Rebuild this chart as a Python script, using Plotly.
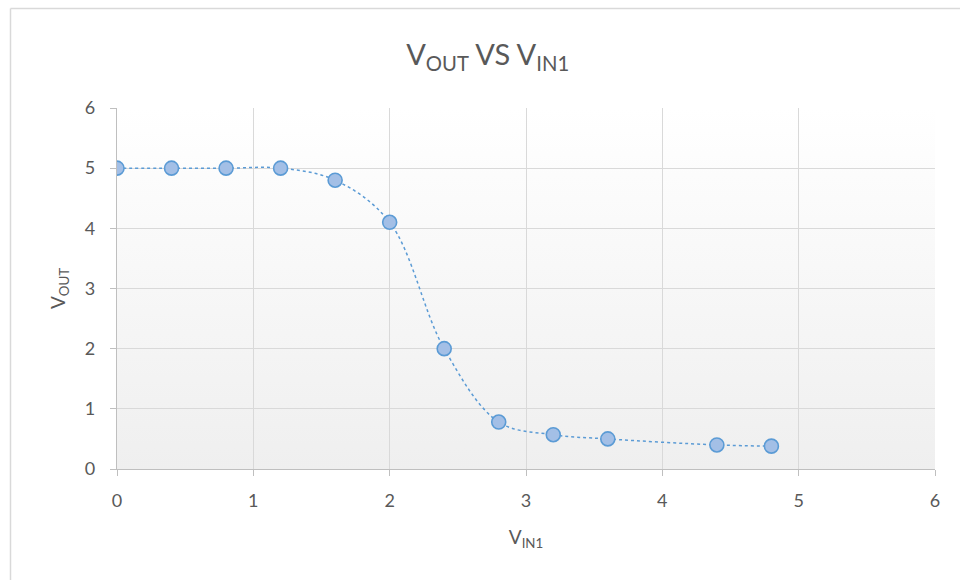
import plotly.graph_objects as go

# Transfer characteristic measurements
v_in1 = [0, 0.4, 0.8, 1.2, 1.6, 2.0, 2.4, 2.8, 3.2, 3.6, 4.4, 4.8]
v_out = [5.0, 5.0, 5.0, 5.0, 4.8, 4.1, 2.0, 0.78, 0.57, 0.5, 0.4, 0.38]
tick_vals = [0, 1, 2, 3, 4, 5, 6]

FONT = "Lato, Open Sans, sans-serif"
TXT = "#595959"
GRID = "#d9d9d9"
AXIS = "#bfbfbf"
BLUE = "#5b9bd5"

# Soft vertical gradient for the plotting area
grad_svg = (
    "data:image/svg+xml;utf8,"
    "<svg xmlns='http://www.w3.org/2000/svg' width='100' height='100' preserveAspectRatio='none'>"
    "<defs><linearGradient id='g' x1='0' y1='0' x2='0' y2='1'>"
    "<stop offset='0' stop-color='%23ffffff'/><stop offset='1' stop-color='%23efefef'/>"
    "</linearGradient></defs><rect width='100' height='100' fill='url(%23g)'/></svg>"
)

fig = go.Figure()
fig.add_trace(go.Scatter(
    x=v_in1, y=v_out, mode="lines+markers",
    line=dict(color=BLUE, width=1.5, dash="dot", shape="spline", smoothing=1.0),
    marker=dict(size=14, color="#a3bfe6", line=dict(color=BLUE, width=1.6)),
    showlegend=False, hoverinfo="x+y",
))

L, R, T, B = 117, 25, 108, 111
W, H = 960, 580
pw, ph = W - L - R, H - T - B

def px_x(p):
    return (p - L) / pw

def px_y(p):
    return (H - B - p) / ph

fig.update_layout(
    width=W, height=H,
    margin=dict(l=L, r=R, t=T, b=B),
    paper_bgcolor="white", plot_bgcolor="rgba(0,0,0,0)",
    font=dict(family=FONT, color=TXT, size=18),
    title=dict(
        text="V<sub>OUT</sub> VS V<sub>IN1</sub>",
        x=0.508, xref="container", xanchor="center",
        y=0.905, yref="container", yanchor="middle",
        font=dict(size=29, color=TXT, family=FONT),
    ),
    xaxis=dict(
        range=[0, 6], tickvals=tick_vals, showgrid=True, gridcolor=GRID, gridwidth=1.3,
        zeroline=False, showline=True, linecolor=AXIS, linewidth=1.3,
        ticks="outside", ticklen=6, tickcolor=AXIS, tickwidth=1.3,
        tickfont=dict(size=18, color=TXT), ticklabelstandoff=9,
        title=dict(text="V<sub>IN1</sub>", font=dict(size=19, color=TXT), standoff=20),
    ),
    yaxis=dict(
        range=[0, 6], tickvals=tick_vals, showgrid=True, gridcolor=GRID, gridwidth=1.3,
        zeroline=False, showline=True, linecolor=AXIS, linewidth=1.3,
        ticks="outside", ticklen=6, tickcolor=AXIS, tickwidth=1.3,
        tickfont=dict(size=18, color=TXT), ticklabelstandoff=11,
        title=dict(text="V<sub>OUT</sub>", font=dict(size=19, color=TXT), standoff=14),
    ),
    images=[dict(
        source=grad_svg, xref="paper", yref="paper", x=0, y=1,
        sizex=1, sizey=1, sizing="stretch", xanchor="left", yanchor="top",
        layer="below",
    )],
    shapes=[
        dict(type="line", xref="paper", yref="paper",
             x0=px_x(10.5), x1=px_x(10.5), y0=px_y(8.5), y1=px_y(600),
             line=dict(color="#d9d9d9", width=1.5)),
        dict(type="line", xref="paper", yref="paper",
             x0=px_x(10.5), x1=px_x(980), y0=px_y(8.5), y1=px_y(8.5),
             line=dict(color="#d9d9d9", width=1.5)),
    ],
)

fig.write_html("out.html")
